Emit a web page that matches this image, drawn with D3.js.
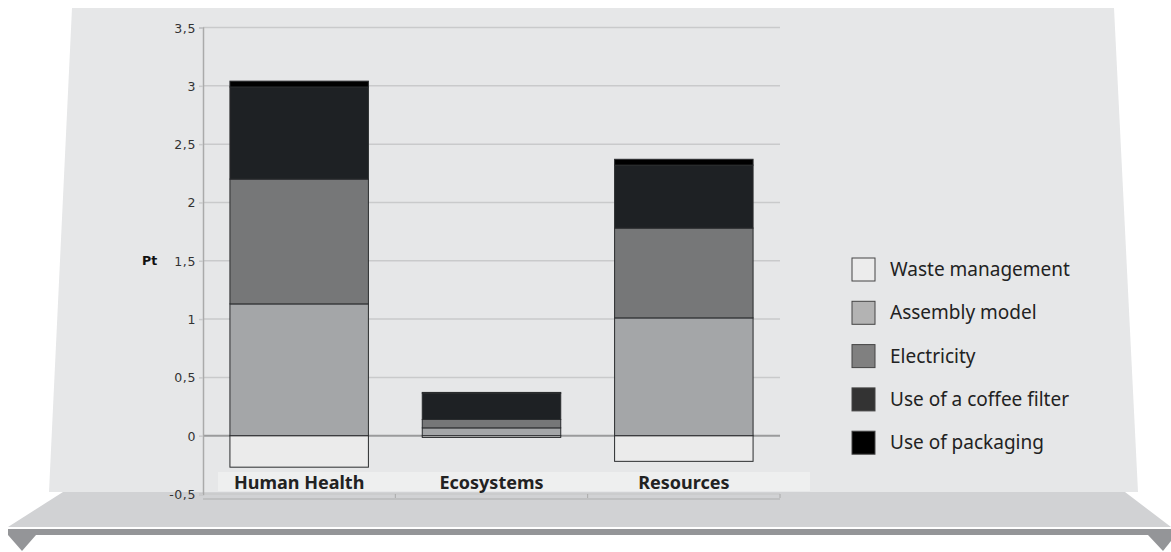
<!DOCTYPE html>
<html>
<head>
<meta charset="utf-8">
<script src="https://cdn.jsdelivr.net/npm/d3@7"></script>
<style>
  body { margin: 0; background: #ffffff; }
  svg { display: block; }
</style>
</head>
<body>
<div id="viz-container"></div>
<script>
// data
let categories = ["Human Health", "Ecosystems", "Resources"];
let seriesNames = ["Waste management", "Assembly model", "Electricity", "Use of a coffee filter", "Use of packaging"];
let waste = [-0.27, -0.015, -0.22];
let assembly = [1.13, 0.067, 1.01];
let electricity = [1.07, 0.072, 0.77];
let coffeeFilter = [0.79, 0.226, 0.54];
let packaging = [0.05, 0.006, 0.05];
let yTicks = [-0.5, 0, 0.5, 1, 1.5, 2, 2.5, 3, 3.5];

let barColors = ["#ebebeb", "#a4a6a8", "#767778", "#1e2124", "#000000"];
let legendColors = ["#ececec", "#b3b3b3", "#808080", "#333333", "#000000"];

let rows = categories.map(function(c, i){
  return {
    cat: c,
    "Waste management": waste[i],
    "Assembly model": assembly[i],
    "Electricity": electricity[i],
    "Use of a coffee filter": coffeeFilter[i],
    "Use of packaging": packaging[i]
  };
});

let viz = d3.select("#viz-container")
    .append("svg")
    .attr("width", 1171)
    .attr("height", 552)
;

// background panel + shelf
viz.append("polygon")
  .attr("points", "72,8 1114,8 1138,492 49,492")
  .attr("fill", "#e6e7e8");
viz.append("polygon")
  .attr("points", "63,492 1125,492 1171,527 8,527")
  .attr("fill", "#d1d2d4");
viz.append("rect")
  .attr("x", 8).attr("y", 529).attr("width", 1163).attr("height", 6)
  .attr("fill", "#949598");
viz.append("polygon")
  .attr("points", "8,535 36,535 22,551")
  .attr("fill", "#949598");
viz.append("polygon")
  .attr("points", "1148,535 1171,535 1171,541 1163,551")
  .attr("fill", "#949598");

let x = d3.scaleBand()
  .domain(categories)
  .range([203, 780])
  .paddingInner(0.28)
  .paddingOuter(0.14);

let y = d3.scaleLinear()
  .domain([-0.5, 3.5])
  .range([494, 27.5]);

// category label band
viz.append("rect")
  .attr("x", 218).attr("y", 472).attr("width", 592).attr("height", 19)
  .attr("fill", "#eeefef");

// gridlines
viz.selectAll(".grid").data(yTicks).enter()
  .append("line")
    .attr("class", "grid")
    .attr("x1", 203)
    .attr("x2", 780)
    .attr("y1", function(d){ return y(d); })
    .attr("y2", function(d){ return y(d); })
    .attr("stroke", function(d){ return d == 0 ? "#9a9b9c" : "#c9cacb"; })
    .attr("stroke-width", function(d){ return d == 0 ? 2 : 1.5; })
;

// second bottom line under the plot
viz.append("line")
  .attr("x1", 203).attr("x2", 780)
  .attr("y1", y(-0.5) + 5).attr("y2", y(-0.5) + 5)
  .attr("stroke", "#b9babb").attr("stroke-width", 1.5);

// small ticks at the category edges
viz.selectAll(".xtick").data([x.step(), x.step() * 2, x.step() * 3]).enter()
  .append("line")
    .attr("class", "xtick")
    .attr("x1", function(d){ return 203 + d; })
    .attr("x2", function(d){ return 203 + d; })
    .attr("y1", y(-0.5))
    .attr("y2", y(-0.5) + 4)
    .attr("stroke", "#aaaaaa")
;

// y axis
let yAxis = d3.axisLeft(y)
  .tickValues(yTicks)
  .tickSize(4)
  .tickPadding(3)
  .tickFormat(function(d){ return String(d).replace(".", ","); });

let yg = viz.append("g")
  .attr("transform", "translate(203,0)")
  .call(yAxis);
yg.select(".domain").attr("stroke", "#aaaaaa").attr("stroke-width", 1.5);
yg.selectAll(".tick line").attr("stroke", "#c9cacb").attr("stroke-width", 1.5);
yg.selectAll(".tick text")
  .attr("fill", "#333333")
  .attr("dy", "0.36em")
  .style("font-family", "DejaVu Sans")
  .style("font-size", "12.5px")
  .style("letter-spacing", "0.6px");

viz.append("text")
  .attr("x", 142).attr("y", y(1.5) + 4.5)
  .attr("fill", "#111111")
  .style("font-family", "DejaVu Sans")
  .style("font-size", "12.5px")
  .style("font-weight", "bold")
  .text("Pt");

// stacked bars
let stack = d3.stack()
  .keys(seriesNames)
  .offset(d3.stackOffsetDiverging);
let stacked = stack(rows);

let layers = viz.selectAll(".layer").data(stacked).enter()
  .append("g")
    .attr("class", "layer")
    .attr("fill", function(d, i){ return barColors[i]; })
;

layers.selectAll("rect").data(function(d){ return d; }).enter()
  .append("rect")
    .attr("x", function(d){ return x(d.data.cat); })
    .attr("width", x.bandwidth())
    .attr("y", function(d){ return y(Math.max(d[0], d[1])); })
    .attr("height", function(d){ return Math.abs(y(d[0]) - y(d[1])); })
    .attr("stroke", "#2a2c2e")
    .attr("stroke-width", 1)
;

// category labels
viz.selectAll(".catlabel").data(categories).enter()
  .append("text")
    .attr("class", "catlabel")
    .attr("x", function(d){ return x(d) + x.bandwidth() / 2; })
    .attr("y", 489)
    .attr("text-anchor", "middle")
    .attr("fill", "#222222")
    .style("font-family", "Noto Sans")
    .style("font-size", "18px")
    .style("font-weight", "bold")
    .text(function(d){ return d; })
;

// legend
let legend = viz.selectAll(".legend").data(seriesNames).enter()
  .append("g")
    .attr("class", "legend")
    .attr("transform", function(d, i){ return "translate(852," + (258 + i * 43.3) + ")"; })
;
legend.append("rect")
  .attr("width", 23).attr("height", 23)
  .attr("fill", function(d, i){ return legendColors[i]; })
  .attr("stroke", "#444444")
  .attr("stroke-width", 1);
legend.append("text")
  .attr("x", 38).attr("y", 18)
  .attr("fill", "#222222")
  .style("font-family", "Noto Sans")
  .style("font-size", "19px")
  .text(function(d){ return d; });
</script>
</body>
</html>
